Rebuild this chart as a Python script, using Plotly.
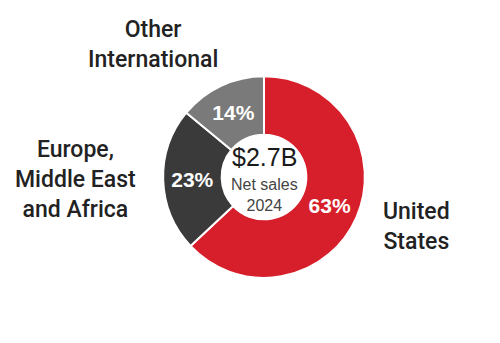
import plotly.graph_objects as go

categories = ["United States", "Europe, Middle East and Africa", "Other International"]
label_lines = [["United", "States"], ["Europe,", "Middle East", "and Africa"], ["Other", "International"]]
shares = [63, 23, 14]
colors = ["#D71F2B", "#3A3A3A", "#7A7A7A"]
center_lines = ["$2.7B", "Net sales", "2024"]

fig = go.Figure()
fig.add_trace(go.Pie(
    labels=categories,
    values=shares,
    text=[f"{v}%" for v in shares],
    texttemplate="%{text}",
    textposition="inside",
    insidetextorientation="horizontal",
    textfont=dict(family="Liberation Sans, Arial", size=21, color="white", weight="bold"),
    marker=dict(colors=colors, line=dict(color="white", width=2)),
    hole=0.42,
    sort=False,
    direction="clockwise",
    rotation=0,
    showlegend=False,
    domain=dict(x=[0.326, 0.73], y=[0.19, 0.778]),
    hoverinfo="label+percent",
))

label_font = dict(family="Roboto", size=23, color="#222222", weight=500)
label_pos = [(416, 226), (75, 180), (153, 45)]
for lines, (x, y) in zip(label_lines, label_pos):
    fig.add_annotation(text="<br>".join(lines), x=x / 500, y=1 - y / 343,
                       xref="paper", yref="paper", showarrow=False,
                       font=label_font, align="center", xanchor="center", yanchor="middle")

fig.add_annotation(text=center_lines[0], x=264 / 500, y=1 - 157 / 343, xref="paper", yref="paper",
                   showarrow=False, font=dict(family="Liberation Sans, Arial", size=25, color="#1A1A1A"),
                   xanchor="center", yanchor="middle")
fig.add_annotation(text=center_lines[1] + "<br>" + center_lines[2], x=264 / 500, y=1 - 195 / 343,
                   xref="paper", yref="paper", showarrow=False,
                   font=dict(family="Liberation Sans, Arial", size=16, color="#444444"),
                   xanchor="center", yanchor="middle")

fig.update_layout(width=500, height=343, margin=dict(l=0, r=0, t=0, b=0),
                  paper_bgcolor="white", plot_bgcolor="white")
fig.write_html("out.html")
